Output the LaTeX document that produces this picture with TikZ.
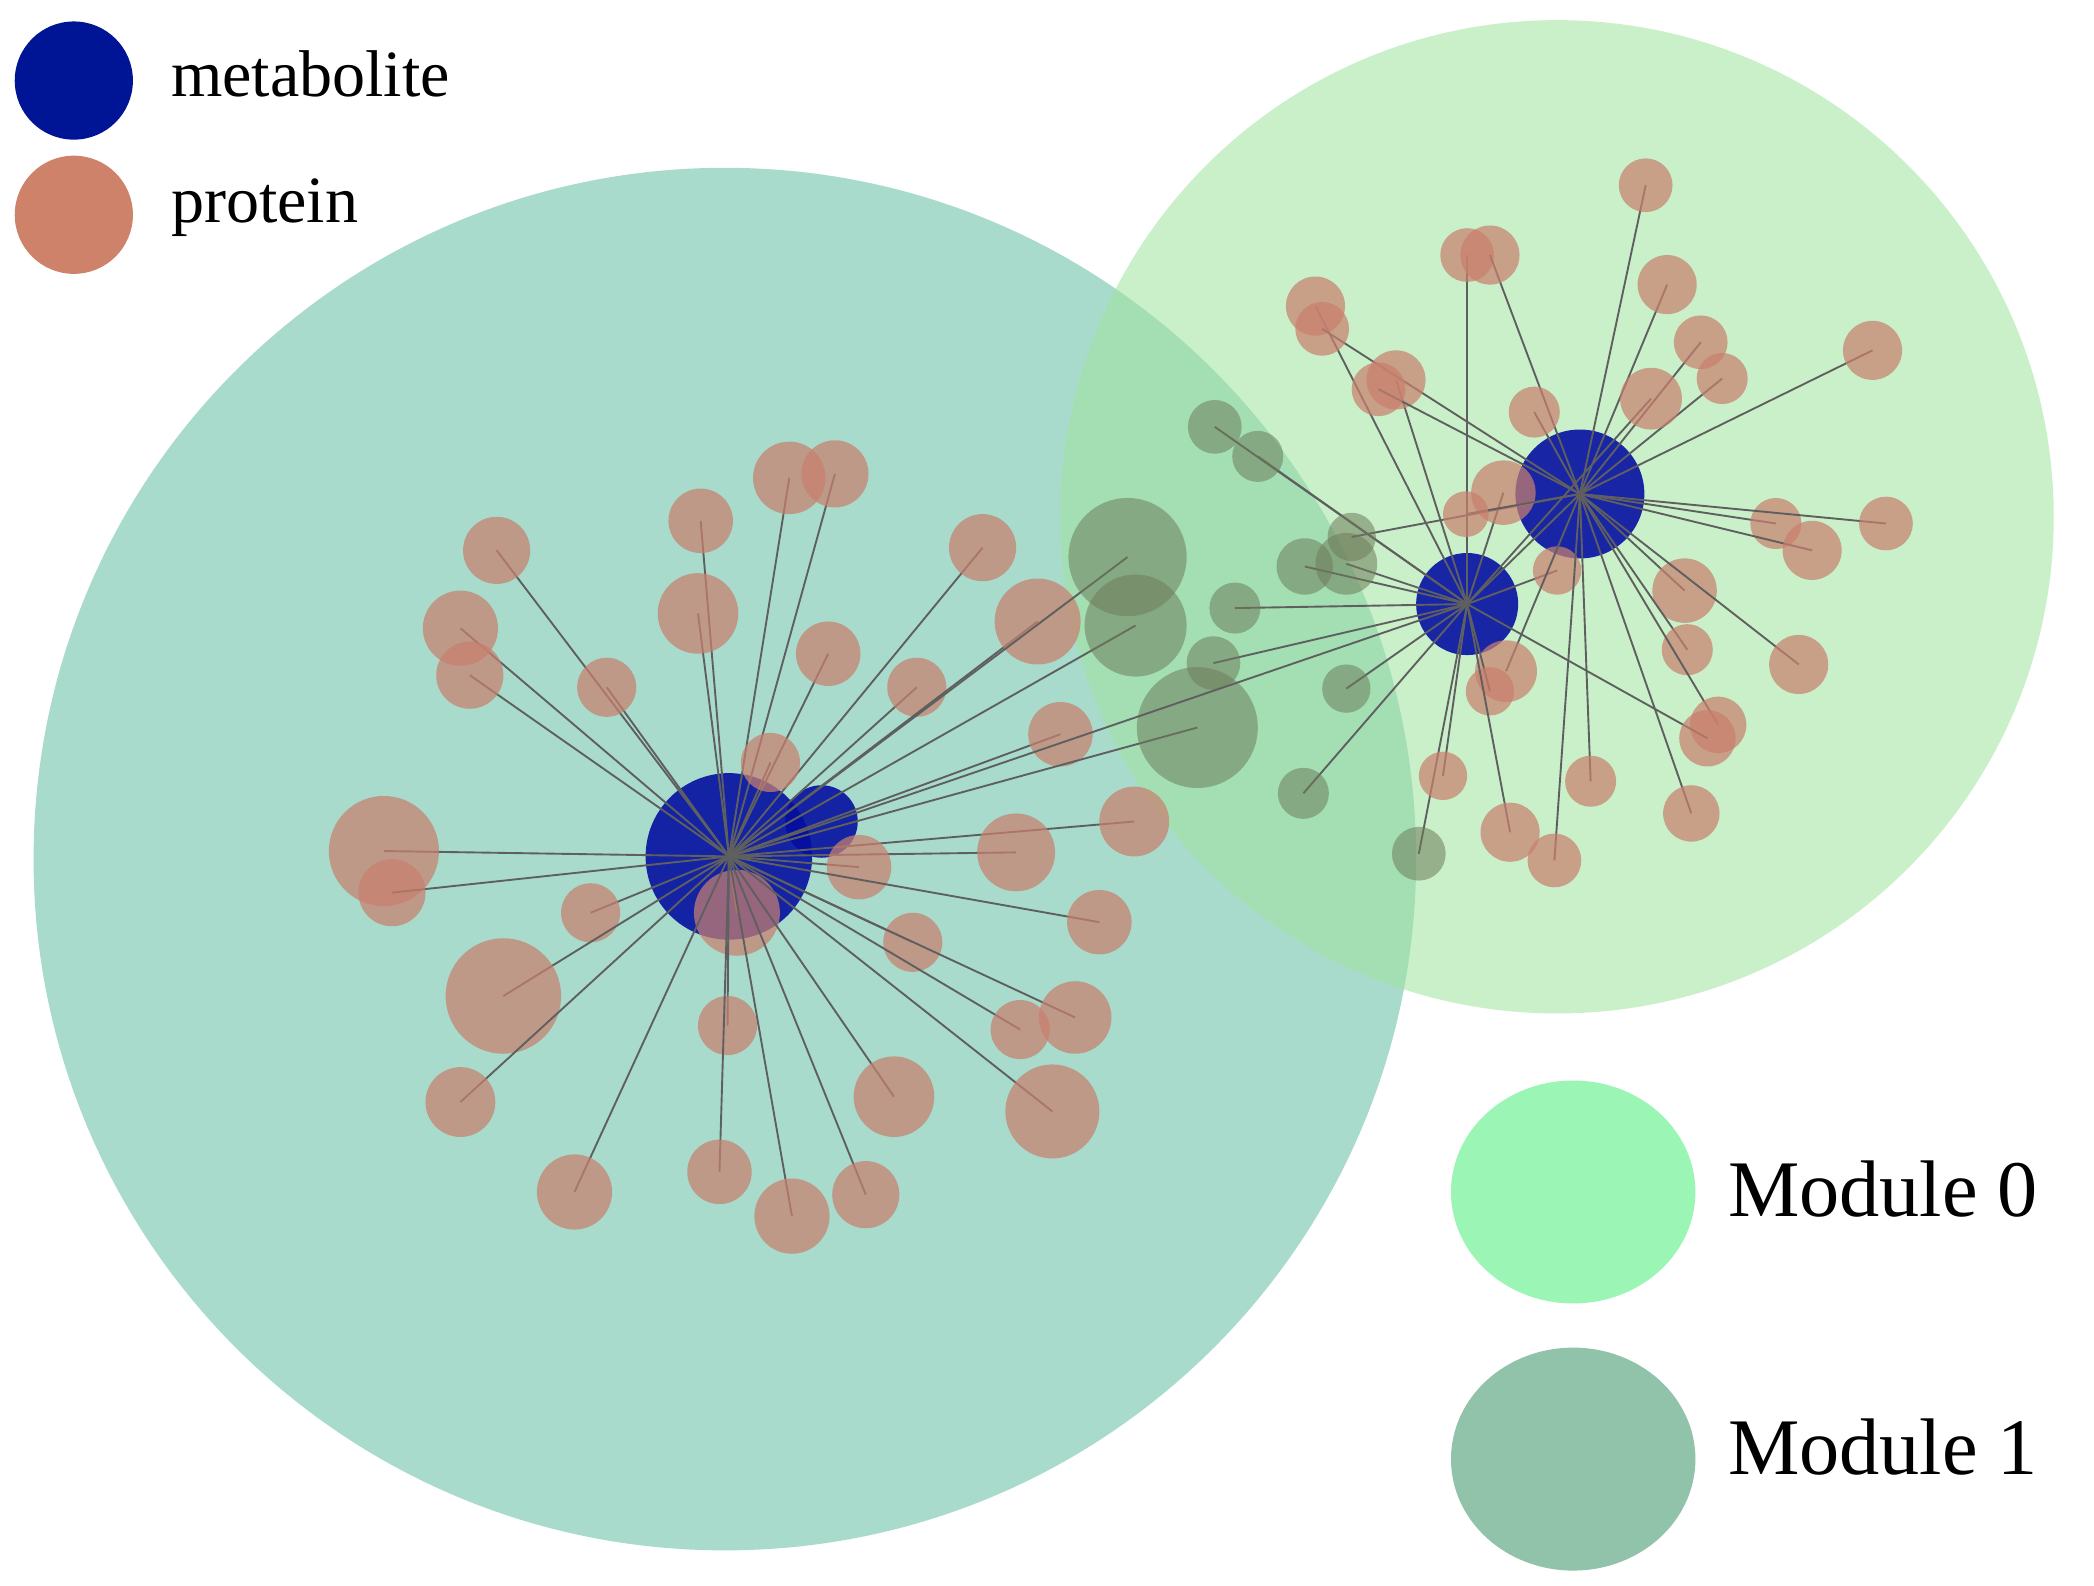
\documentclass[tikz,border=0pt]{standalone}
\usepackage{fontspec}
\setmainfont{Liberation Serif}
\usetikzlibrary{shapes.geometric}
\definecolor{cprot}{RGB}{200,128,110}
\definecolor{cdprot}{RGB}{110,125,90}
\definecolor{cmet}{RGB}{5,15,160}
\definecolor{cedge}{RGB}{95,95,95}
\definecolor{cmodA}{RGB}{110,195,170}
\definecolor{cmodB}{RGB}{160,228,160}
\definecolor{clm}{RGB}{0,20,150}
\definecolor{clp}{RGB}{205,130,105}
\definecolor{ce0}{RGB}{155,245,180}
\definecolor{ce1}{RGB}{145,195,170}
\begin{document}
\begin{tikzpicture}[x=0.01cm,y=-0.01cm,
  prot/.style={circle,fill=cprot,fill opacity=0.72,inner sep=0pt},
  dprot/.style={circle,fill=cdprot,fill opacity=0.55,inner sep=0pt},
  met/.style={circle,fill=cmet,fill opacity=0.9,inner sep=0pt},
  edge/.style={draw=cedge,line width=0.4pt},
  lab/.style={anchor=west,font=\fontsize{14}{16}\selectfont},
  mlab/.style={anchor=west,font=\fontsize{17}{20}\selectfont}]
\useasboundingbox (0,0) rectangle (1560,1181.5);
\fill[white] (0,0) rectangle (1560,1181.5);
% modules
\fill[cmodA,opacity=0.6] (540,640) circle (515);
\fill[cmodB,opacity=0.55] (1160,385) circle (370);
% hubs
\node[met,minimum size=1.24cm] (m1) at (543,638) {};
\node[met,minimum size=0.54cm] (m2) at (612,612) {};
\node[met,minimum size=0.96cm] (m3) at (1177,368) {};
\node[met,minimum size=0.76cm] (m4) at (1093,450) {};
% left proteins
\foreach \x/\y/\r [count=\i] in {370/410/25,343/468/28,350/503/25,452/512/22,522/388/24,520/457/30,588/356/27,622/353/25,617/487/24,683/512/22,732/408/25,773/463/32,790/547/24,845/612/26,757/635/29,640/646/24,574/568/22,286/634/41,292/665/25,440/680/22,549/680/32,680/702/22,819/687/24,375/742/43,542/764/22,760/767/22,801/758/27,343/821/26,666/817/30,784/828/35,428/888/28,536/873/24,590/906/28,645/890/25}{
  \draw[edge] (m1.center) -- (\x,\y);
  \node[prot,minimum size=\r*0.02cm] (L\i) at (\x,\y) {};}
% dark overlapping proteins
\foreach \x/\y/\r/\h [count=\i] in {840/415/44/m1,846/466/38/m1,892/542/45/m1,904/494/20/m4,905/318/20/m4,937/340/19/m4,920/453/19/m4,972/422/21/m4,1003/420/23/m4,1007/400/18/m3,1003/513/18/m4,971/591/19/m4,1057/636/20/m4}{
  \draw[edge] (\h.center) -- (\x,\y);
  \node[dprot,minimum size=\r*0.02cm] (D\i) at (\x,\y) {};}
% right proteins
\foreach \x/\y/\r/\h [count=\i] in {1226/138/20/m3,1093/190/20/m4,1110/190/22/m3,980/228/22/m4,985/245/20/m3,1242/212/22/m3,1040/283/22/m4,1027/290/20/m3,1267/255/20/m3,1283/282/19/m3,1230/297/23/m4,1395/261/22/m3,1143/307/19/m3,1120/367/24/m4,1092/383/17/m3,1323/390/19/m3,1350/410/22/m3,1405/390/20/m3,1255/440/24/m3,1160/425/18/m4,1257/484/19/m3,1340/495/22/m3,1122/500/23/m3,1110/515/18/m4,1280/540/21/m3,1272/550/21/m4,1185/582/19/m3,1075/578/18/m4,1260/606/21/m3,1125/620/22/m4,1158/641/20/m3}{
  \draw[edge] (\h.center) -- (\x,\y);
  \node[prot,minimum size=\r*0.02cm] (R\i) at (\x,\y) {};}
\draw[edge] (m1.center) -- (m4.center);
\draw[edge] (m3.center) -- (m4.center);
% legend
\node[circle,fill=clm,minimum size=0.88cm,inner sep=0pt] (lm) at (55,60) {};
\node[lab] (lmt) at (115,55) {metabolite};
\node[circle,fill=clp,minimum size=0.88cm,inner sep=0pt] (lp) at (55,160) {};
\node[lab] (lpt) at (115,155) {protein};
\node[ellipse,fill=ce0,minimum width=1.82cm,minimum height=1.66cm,inner sep=0pt] (e0) at (1172,888) {};
\node[mlab] (t0) at (1275,886) {Module 0};
\node[ellipse,fill=ce1,minimum width=1.82cm,minimum height=1.66cm,inner sep=0pt] (e1) at (1172,1087) {};
\node[mlab] (t1) at (1275,1078) {Module 1};
\end{tikzpicture}
\end{document}
